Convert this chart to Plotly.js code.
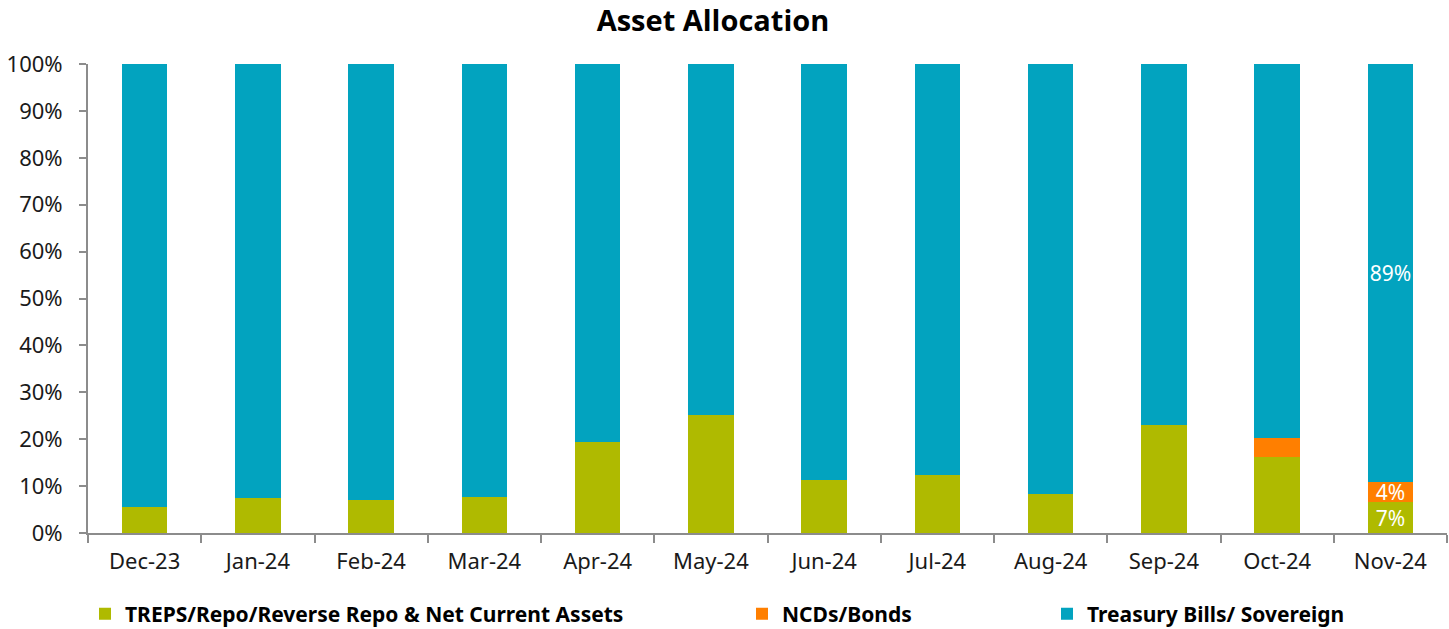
<!DOCTYPE html>
<html>
<head>
<meta charset="utf-8">
<script src="https://cdn.plot.ly/plotly-3.0.1.min.js"></script>
<style>html,body{margin:0;padding:0;background:#fff;}#chart{width:1449px;height:629px;}</style>
</head>
<body>
<div id="chart"></div>
<script>
var categories = ['Dec-23','Jan-24','Feb-24','Mar-24','Apr-24','May-24','Jun-24','Jul-24','Aug-24','Sep-24','Oct-24','Nov-24'];
var trepsValues = [5.5, 7.5, 7.1, 7.7, 19.5, 25.1, 11.4, 12.4, 8.3, 23.1, 16.2, 6.6];
var ncdValues   = [0, 0, 0, 0, 0, 0, 0, 0, 0, 0, 4.1, 4.2];
var tbillValues = [94.5, 92.5, 92.9, 92.3, 80.5, 74.9, 88.6, 87.6, 91.7, 76.9, 79.7, 89.2];
var labelledMonths = ['Nov-24'];
var seriesNames = ['TREPS/Repo/Reverse Repo & Net Current Assets', 'NCDs/Bonds', 'Treasury Bills/ Sovereign'];

function labels(vals){
  return vals.map(function(v,i){ return labelledMonths.indexOf(categories[i]) >= 0 ? Math.round(v) + '%' : ''; });
}

var tickFont = {family:'Noto Sans, Open Sans, sans-serif', size:22, color:'#1a1a1a'};
var legFont = {family:'Noto Sans', size:21, color:'#000', weight:700};

function bar(name, vals, color, legendId){
  return {
    type:'bar', name:name, x:categories, y:vals,
    marker:{color:color, line:{width:0}},
    text:labels(vals), textposition:'inside', insidetextanchor:'middle', textangle:0,
    textfont:{family:'Noto Sans, sans-serif', size:21, color:'#ffffff'},
    constraintext:'none', cliponaxis:false,
    legend:legendId, hoverinfo:'x+y+name'
  };
}

var data = [
  bar(seriesNames[0], trepsValues, '#AFBA00', 'legend'),
  bar(seriesNames[1], ncdValues, '#FF7F00', 'legend2'),
  bar(seriesNames[2], tbillValues, '#02A3BF', 'legend3')
];

function leg(xpx){
  return {x:xpx/1449, xref:'container', y:1-614/629, yref:'container', xanchor:'left', yanchor:'middle',
          orientation:'h', font:legFont, bgcolor:'rgba(0,0,0,0)', borderwidth:0, itemclick:false};
}

var layout = {
  width:1449, height:629,
  margin:{l:88, r:2, t:64, b:96},
  paper_bgcolor:'#fff', plot_bgcolor:'#fff',
  barmode:'stack', bargap:0.6,
  title:{text:'Asset Allocation', x:713/1449, xref:'container', xanchor:'center', y:1-21/629, yref:'container', yanchor:'middle',
         font:{family:'Open Sans', size:29, color:'#000', weight:700}},
  xaxis:{type:'category', showgrid:false, zeroline:false, showline:true, linecolor:'#8c8c8c', linewidth:2,
         ticks:'outside', tickson:'boundaries', ticklen:8, tickcolor:'#8c8c8c', tickwidth:2,
         tickfont:tickFont, ticklabelstandoff:8, fixedrange:true},
  yaxis:{range:[0,100], dtick:10, ticksuffix:'%', showgrid:false, zeroline:false, showline:true, linecolor:'#8c8c8c', linewidth:2,
         ticks:'outside', ticklen:7, tickcolor:'#8c8c8c', tickwidth:2, tickfont:tickFont, ticklabelstandoff:12, fixedrange:true},
  showlegend:true,
  legend:leg(85), legend2:leg(742), legend3:leg(1047)
};

Plotly.newPlot('chart', data, layout, {displayModeBar:false, staticPlot:true});
</script>
</body>
</html>
